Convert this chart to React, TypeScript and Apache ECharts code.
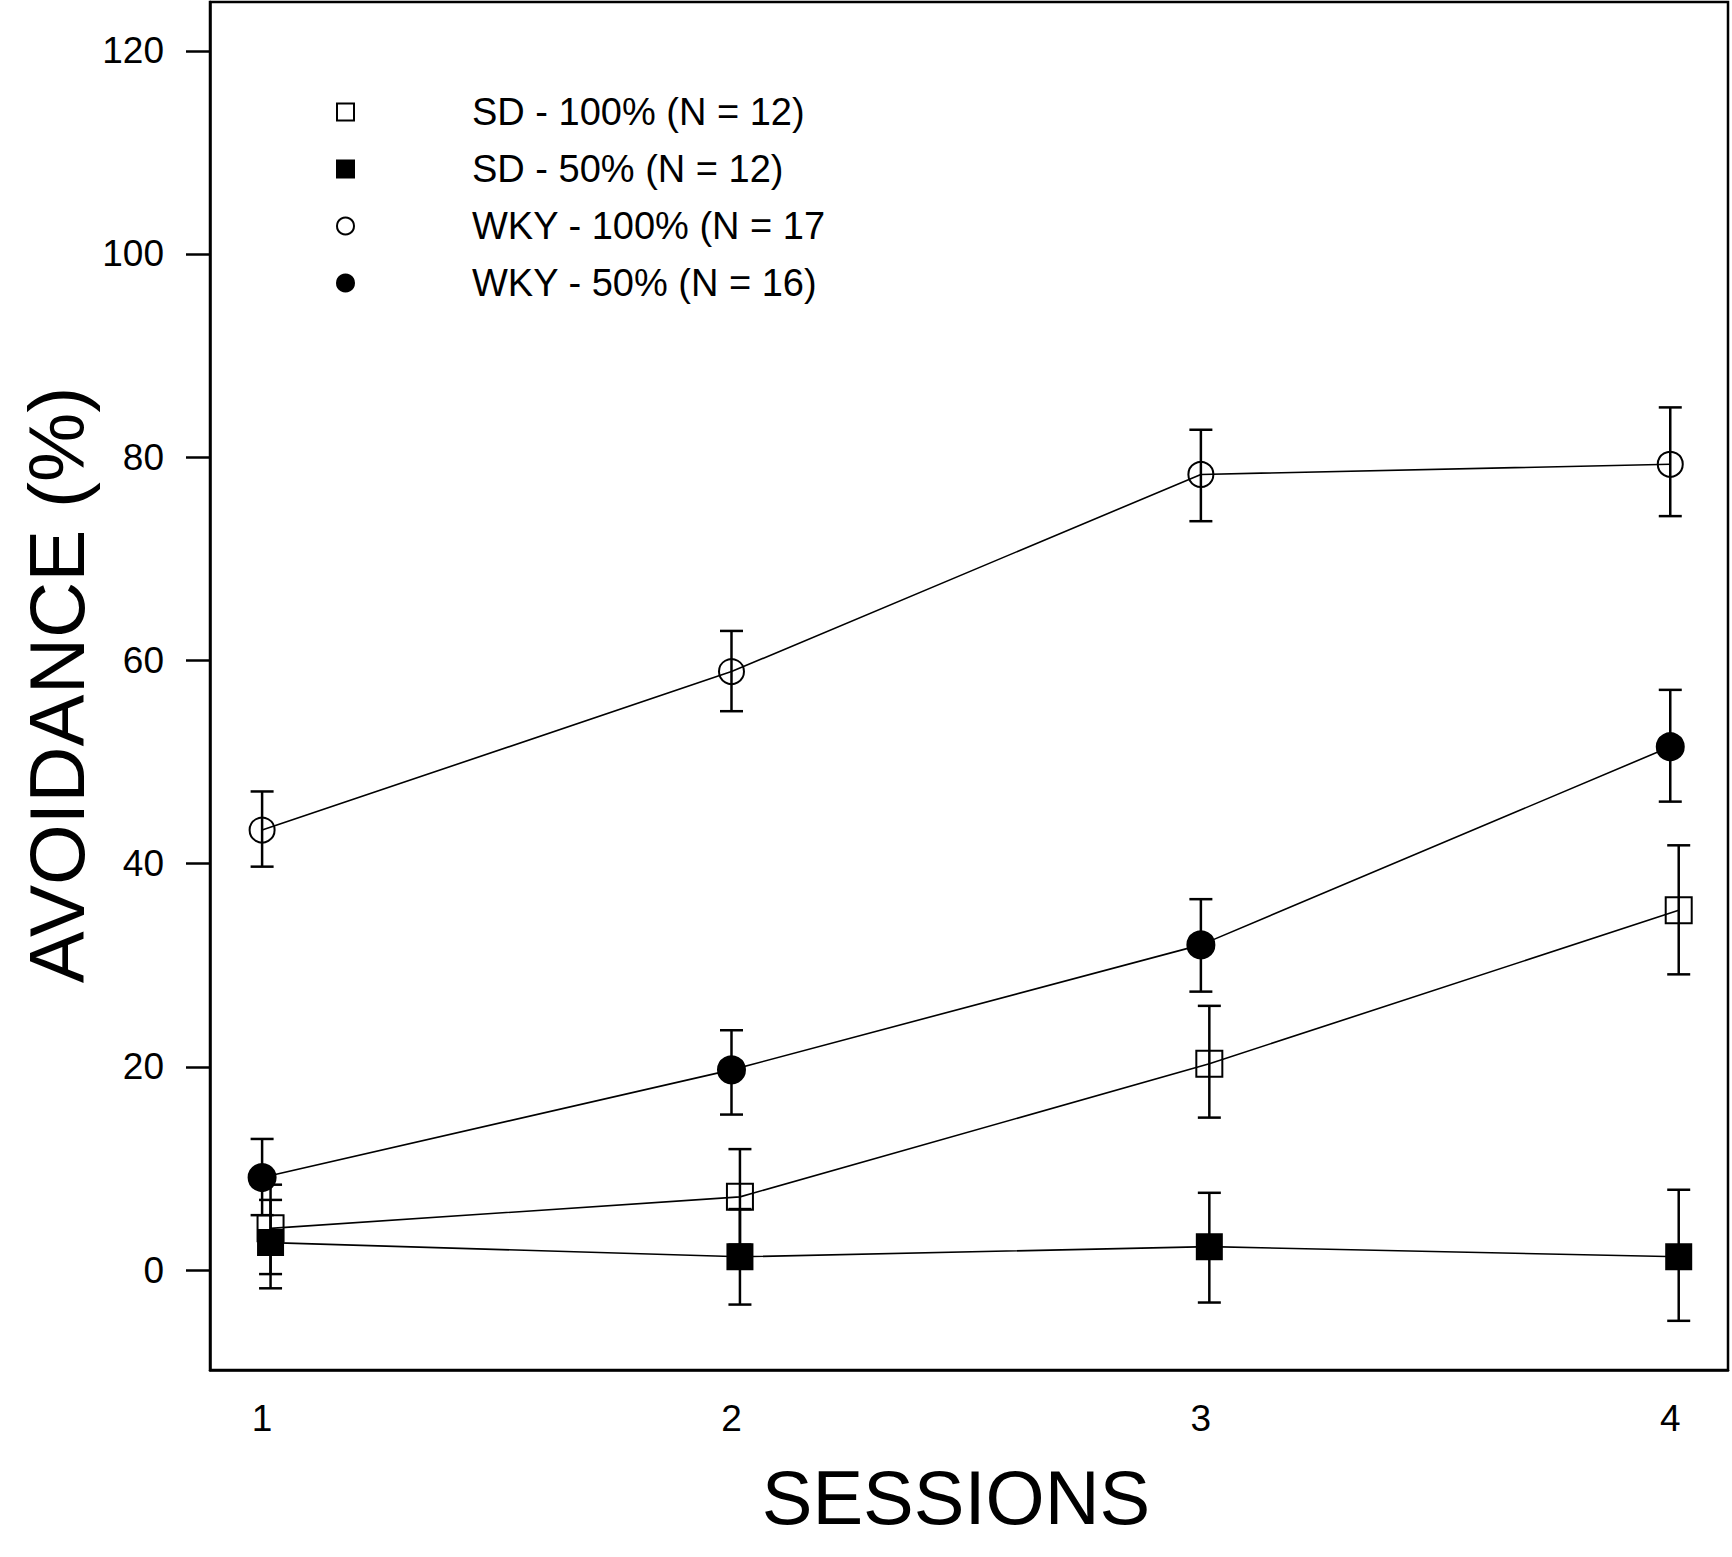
import React, { useEffect, useRef } from "react";
import * as echarts from "echarts";

const sessions = [1, 2, 3, 4];
const xTickLabels = ["1", "2", "3", "4"];
const yTicks = [0, 20, 40, 60, 80, 100, 120];

const seriesNames = [
  "SD - 100% (N = 12)",
  "SD - 50% (N = 12)",
  "WKY - 100% (N = 17",
  "WKY - 50% (N = 16)",
];

// SD - 100%
const sd100Mean = [4.1, 7.2, 20.3, 35.4];
const sd100Upper = [8.4, 11.9, 26.0, 41.8];
const sd100Lower = [-0.4, 2.5, 15.0, 29.1];
// SD - 50%
const sd50Mean = [2.7, 1.3, 2.3, 1.3];
const sd50Upper = [6.9, 6.0, 7.6, 7.9];
const sd50Lower = [-1.8, -3.4, -3.2, -5.0];
// WKY - 100%
const wky100Mean = [43.3, 58.9, 78.3, 79.3];
const wky100Upper = [47.1, 62.9, 82.7, 84.9];
const wky100Lower = [39.7, 55.0, 73.7, 74.2];
// WKY - 50%
const wky50Mean = [9.1, 19.7, 32.0, 51.5];
const wky50Upper = [12.9, 23.6, 36.5, 57.1];
const wky50Lower = [5.4, 15.3, 27.4, 46.1];

const SD_SHIFT = 0.018; // slight horizontal dodge of SD groups

const FONT = "'Liberation Sans', Arial, Helvetica, sans-serif";
const HOLLOW = "rgba(255,255,255,0)";

type Group = {
  name: string;
  mean: number[];
  upper: number[];
  lower: number[];
  shift: number;
  symbol: string;
  size: number;
  filled: boolean;
};

const groups: Group[] = [
  { name: seriesNames[0], mean: sd100Mean, upper: sd100Upper, lower: sd100Lower, shift: SD_SHIFT, symbol: "rect", size: 26, filled: false },
  { name: seriesNames[1], mean: sd50Mean, upper: sd50Upper, lower: sd50Lower, shift: SD_SHIFT, symbol: "rect", size: 25, filled: true },
  { name: seriesNames[2], mean: wky100Mean, upper: wky100Upper, lower: wky100Lower, shift: 0, symbol: "circle", size: 25, filled: false },
  { name: seriesNames[3], mean: wky50Mean, upper: wky50Upper, lower: wky50Lower, shift: 0, symbol: "circle", size: 27, filled: true },
];

function errorBarRender(params: any, api: any) {
  const x = api.value(0);
  const lo = api.value(1);
  const hi = api.value(2);
  const top = api.coord([x, hi]);
  const bot = api.coord([x, lo]);
  const half = 11.5;
  const style = { stroke: "#000", lineWidth: 2.5 };
  return {
    type: "group",
    children: [
      { type: "line", shape: { x1: top[0], y1: top[1], x2: bot[0], y2: bot[1] }, style },
      { type: "line", shape: { x1: top[0] - half, y1: top[1], x2: top[0] + half, y2: top[1] }, style },
      { type: "line", shape: { x1: bot[0] - half, y1: bot[1], x2: bot[0] + half, y2: bot[1] }, style },
    ],
  };
}

export default function App() {
  const ref = useRef<HTMLDivElement>(null);

  useEffect(() => {
    if (!ref.current) return;
    const chart = echarts.init(ref.current, undefined, { renderer: "svg" });

    const lineSeries = groups.map((g) => ({
      name: g.name,
      type: "line",
      data: sessions.map((s, i) => [s + g.shift, g.mean[i]]),
      symbol: g.symbol,
      symbolSize: g.size,
      showAllSymbol: true,
      lineStyle: { color: "#000", width: 1.6 },
      itemStyle: {
        color: g.filled ? "#000" : HOLLOW,
        borderColor: "#000",
        borderWidth: 2,
      },
      emphasis: { disabled: true },
      z: 3,
    }));

    const errSeries = groups.map((g) => ({
      name: "err " + g.name,
      type: "custom",
      renderItem: errorBarRender,
      data: sessions.map((s, i) => [s + g.shift, g.lower[i], g.upper[i]]),
      encode: { x: 0, y: [1, 2] },
      z: 4,
      silent: true,
    }));

    chart.setOption({
      animation: false,
      backgroundColor: "#fff",
      textStyle: { fontFamily: FONT, color: "#000" },
      grid: {
        left: 210,
        top: 2,
        width: 1518,
        height: 1368,
        show: true,
        borderColor: "#000",
        borderWidth: 2.5,
        backgroundColor: "rgba(0,0,0,0)",
        outerBoundsMode: "none",
      },
      xAxis: {
        type: "value",
        min: 0.889,
        max: 4.123,
        splitLine: { show: false },
        axisLine: { show: true, onZero: false, lineStyle: { color: "#000", width: 2.5 } },
        axisTick: { show: false },
        axisLabel: {
          customValues: sessions,
          formatter: (v: number) => xTickLabels[sessions.indexOf(Math.round(v))] ?? "",
          fontSize: 37,
          color: "#000",
          fontFamily: FONT,
          margin: 30,
        },
      },
      yAxis: {
        type: "value",
        min: -9.84,
        max: 124.8,
        splitLine: { show: false },
        axisLine: { show: true, onZero: false, lineStyle: { color: "#000", width: 2.5 } },
        axisTick: {
          show: true,
          customValues: yTicks,
          length: 24,
          inside: false,
          lineStyle: { color: "#000", width: 2.5 },
        },
        axisLabel: {
          customValues: yTicks,
          fontSize: 37,
          color: "#000",
          fontFamily: FONT,
          margin: 46,
        },
      },
      legend: {
        orient: "vertical",
        left: 331,
        top: 87,
        itemWidth: 17,
        itemHeight: 17,
        itemGap: 17,
        selectedMode: false,
        textStyle: {
          fontSize: 38,
          lineHeight: 40,
          color: "#000",
          fontFamily: FONT,
          padding: [0, 0, 0, 113],
        },
        data: groups.map((g) => ({
          name: g.name,
          icon: g.symbol,
          itemStyle: {
            color: g.filled ? "#000" : "#fff",
            borderColor: "#000",
            borderWidth: 2,
          },
        })),
      },
      graphic: [
        {
          type: "text",
          x: 956,
          y: 1497,
          style: {
            text: "SESSIONS",
            fontSize: 76,
            fontFamily: FONT,
            fill: "#000",
            align: "center",
            verticalAlign: "middle",
            textAlign: "center",
            textVerticalAlign: "middle",
          },
        },
        {
          type: "text",
          x: 57,
          y: 685,
          rotation: Math.PI / 2,
          style: {
            text: "AVOIDANCE (%)",
            fontSize: 78,
            fontFamily: FONT,
            fill: "#000",
            align: "center",
            verticalAlign: "middle",
            textAlign: "center",
            textVerticalAlign: "middle",
          },
        },
      ],
      series: [...lineSeries, ...errSeries],
    });

    return () => chart.dispose();
  }, []);

  return (
    <div
      ref={ref}
      style={{ position: "absolute", left: 0, top: 0, width: 1732, height: 1557, background: "#fff" }}
    />
  );
}
